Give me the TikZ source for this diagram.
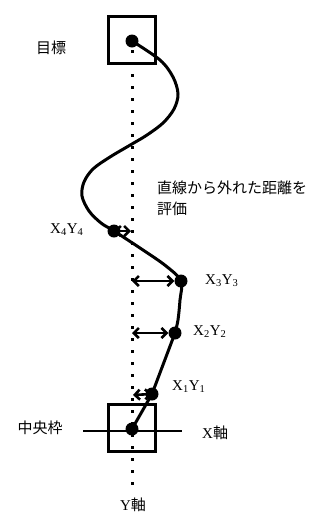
\documentclass[tikz,border=0pt]{standalone}
\usepackage{fontspec}
\setmainfont{Liberation Serif}
\newfontfamily\jp{Noto Sans CJK JP}
\usetikzlibrary{arrows.meta}
\begin{document}
\begin{tikzpicture}[x=1pt,y=-1pt,
  dot/.style={circle,fill=black,inner sep=0pt,minimum size=13pt},
  box/.style={draw=black,line width=3pt,minimum size=47pt,inner sep=0pt},
  dotline/.style={line width=3pt,dash pattern=on 3pt off 9pt},
  path1/.style={line width=3pt},
  dbl/.style={line width=2.6pt,{Straight Barb[length=5pt,width=10pt]}-{Straight Barb[length=5pt,width=10pt]}},
  jlab/.style={font=\jp\fontsize{15}{18}\selectfont,inner sep=0pt},
  llab/.style={font=\fontsize{15}{18}\selectfont,inner sep=0pt}]
\useasboundingbox (0,0) rectangle (329,515);
% boxes
\node[box] (tbox) at (131.5,39.5) {};
\node[box] (cbox) at (131.5,428) {};
% dotted Y axis
\coordinate (ytop) at (132,50);
\coordinate (ybot) at (132,488);
\draw[dotline] (ytop) -- (ybot);
% X axis
\coordinate (xl) at (83,431);
\coordinate (xr) at (182,431);
\draw[line width=2.3pt] (xl) -- (xr);
% points
\node[dot] (tgt) at (132,41) {};
\node[dot] (p4) at (114,231) {};
\node[dot] (p3) at (181,281) {};
\node[dot] (p2) at (175,333) {};
\node[dot] (p1) at (152,394) {};
\node[dot] (c) at (132,429) {};
% path
\draw[path1] plot[smooth,tension=0.55] coordinates {(tgt.center) (160,60) (173,77) (178,94) (174,109) (163,123) (147,135) (132,144) (110,157) (93,169) (84,182) (82,196) (89,211) (101,223) (p4.center) (143,250) (166,266) (p3.center) (180,300) (178,320) (p2.center)};
\draw[path1] (p2.center) -- (p1.center) -- (c.center);
% arrows
\coordinate (a4) at (131,231);
\coordinate (a3) at (132,281);
\coordinate (a2) at (132,333);
\coordinate (a1) at (133,395);
\draw[dbl] (a3) -- (p3.west);
\draw[dbl] (a2) -- (p2.west);
\draw[dbl] (a1) -- (p1.center);
\draw[dbl] (a4) -- (p4.center);
% labels
\node[jlab] (lt) at (51,48) {目標};
\node[jlab,anchor=west] (le1) at (157,188) {直線から外れた距離を};
\node[jlab,anchor=west] (le2) at (157,209) {評価};
\node[llab,anchor=west] (l4) at (50,230) {X\textsubscript{4}Y\textsubscript{4}};
\node[llab,anchor=west] (l3) at (205,281) {X\textsubscript{3}Y\textsubscript{3}};
\node[llab,anchor=west] (l2) at (193,332) {X\textsubscript{2}Y\textsubscript{2}};
\node[llab,anchor=west] (l1) at (172,387) {X\textsubscript{1}Y\textsubscript{1}};
\node[jlab] (lc) at (40,428) {中央枠};
\node[llab,anchor=west] (lx) at (202,433) {X{\jp 軸}};
\node[llab] (ly) at (133,505) {Y{\jp 軸}};
\end{tikzpicture}
\end{document}
